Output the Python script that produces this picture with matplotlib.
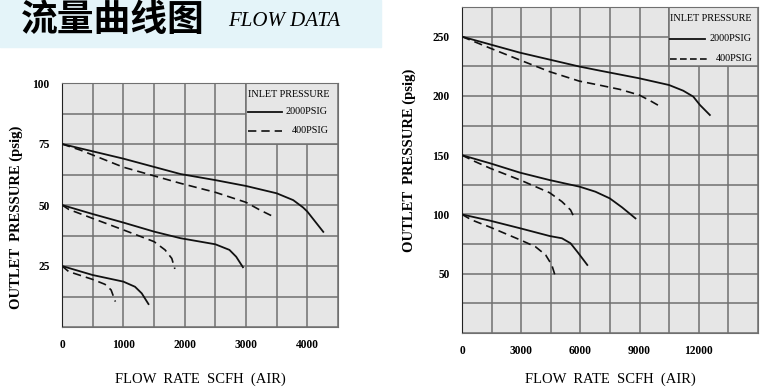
import matplotlib
matplotlib.use('Agg')
import matplotlib.pyplot as plt
import matplotlib.patches as patches

# left chart data (SCFH, psig)
l_solid_75_x = [0, 1000, 1930, 2500, 3000, 3500, 3770, 3930, 4000, 4100, 4260]
l_solid_75_y = [75, 69, 62.7, 60.2, 57.8, 54.8, 52, 49, 47.3, 44.1, 39]
l_dash_75_x = [0, 300, 1000, 1930, 2500, 3000, 3230, 3450]
l_dash_75_y = [75, 72.5, 65.5, 58.9, 55.2, 51.1, 47.9, 45.2]
l_solid_50_x = [0, 500, 1000, 1500, 1930, 2500, 2730, 2840, 2950]
l_solid_50_y = [50, 46.3, 42.8, 39.1, 36.4, 33.9, 31.6, 28.8, 24.5]
l_dash_50_x = [0, 110, 500, 1000, 1500, 1680, 1790, 1840]
l_dash_50_y = [50, 48.2, 44.5, 39.8, 35, 31.6, 28.1, 23.8]
l_solid_25_x = [0, 500, 1000, 1190, 1300, 1410]
l_solid_25_y = [25, 21.3, 18.6, 16.5, 13.8, 9.4]
l_dash_25_x = [0, 110, 500, 700, 800, 870]
l_dash_25_y = [25, 22.7, 19.5, 17.5, 15.2, 10.4]

# right chart data
r_solid_250_x = [0, 2930, 5940, 6990, 8970, 10490, 11210, 11720, 12060, 12560]
r_solid_250_y = [250, 236.5, 224.8, 221.3, 214.9, 209.2, 204.4, 199.4, 192.3, 183.9]
r_dash_250_x = [0, 1440, 2930, 4450, 5940, 6990, 8000, 8970, 9530, 10120]
r_dash_250_y = [250, 240.2, 230.3, 220.4, 212.5, 209, 205.5, 200.8, 196, 190.4]
r_solid_150_x = [0, 1435, 2955, 4444, 5965, 6760, 7485, 8110, 8790]
r_solid_150_y = [150, 143.1, 135.2, 129, 123.4, 119.2, 113.6, 106, 96.7]
r_dash_150_x = [0, 675, 1435, 2955, 4444, 5065, 5500, 5720]
r_dash_150_y = [150, 144.5, 138.9, 129, 118.3, 110.8, 103.8, 96.2]
r_solid_100_x = [0, 1435, 2955, 4444, 5065, 5500, 5840, 6350]
r_solid_100_y = [100, 94.7, 88.3, 81.8, 79.9, 75.7, 68.6, 57.4]
r_dash_100_x = [0, 500, 1435, 2955, 3720, 4240, 4550, 4750]
r_dash_100_y = [100, 95.3, 89.2, 78.5, 72.8, 65.8, 57.4, 46.7]

left_xticks = [0, 1000, 2000, 3000, 4000]
left_yticks = [25, 50, 75, 100]
right_xticks = [0, 3000, 6000, 9000, 12000]
right_yticks = [50, 100, 150, 200, 250]

serif = 'Liberation Serif'
ink = '#111111'
grid = '#707070'

fig = plt.figure(figsize=(7.64, 3.88), dpi=100)

# title banner
fig.patches.append(patches.Rectangle((0, 1 - 47 / 388), 381 / 764, 47 / 388,
                                     transform=fig.transFigure, color='#e4f4f9', zorder=0))
fig.text(21 / 764, 1 - 21 / 388, '流量曲线图', family=['Noto Sans CJK SC', 'DejaVu Sans'],
         fontsize=26.5, fontweight='heavy', va='center', ha='left')
fig.text(228 / 764, 1 - 21 / 388, 'FLOW DATA', family=serif, style='italic',
         fontsize=15, va='center', ha='left')


def setup(ax, xmax, xstep, ymax, ystep, xticks, yticks):
    ax.set_facecolor('#e6e6e6')
    ax.set_xlim(0, xmax)
    ax.set_ylim(0, ymax)
    x = 0
    while x <= xmax:
        ax.axvline(x, color=grid, lw=1.1, zorder=1)
        x += xstep
    y = 0
    while y <= ymax:
        ax.axhline(y, color=grid, lw=1.1, zorder=1)
        y += ystep
    for s in ax.spines.values():
        s.set_color(grid)
    ax.spines['left'].set_color('#222222')
    ax.set_xticks(xticks)
    ax.set_yticks(yticks)
    ax.tick_params(length=0, pad=9)
    for lab in ax.get_xticklabels() + ax.get_yticklabels():
        lab.set_family(serif)
        lab.set_fontsize(8.3)
        lab.set_fontweight('bold')
    ax.set_xlabel('FLOW  RATE  SCFH  (AIR)', family=serif, fontsize=10.5, labelpad=13)
    ax.set_ylabel('OUTLET  PRESSURE (psig)', family=serif, fontsize=10.5,
                  fontweight='bold')


def legend_box(ax, x0, y0, x1, y1):
    ax.add_patch(patches.Rectangle((x0, y0), x1 - x0, y1 - y0, facecolor='#e6e6e6',
                                   edgecolor=grid, lw=1.1, zorder=2))


def curves(ax, solids, dashes):
    for xs, ys in solids:
        ax.plot(xs, ys, color=ink, lw=1.3, zorder=3, solid_joinstyle='round')
    for xs, ys in dashes:
        ax.plot(xs, ys, color=ink, lw=1.2, ls=(0, (5, 3)), zorder=3)


# left chart
ax1 = fig.add_axes([62 / 764, 1 - 327 / 388, 276 / 764, 244 / 388])
setup(ax1, 4500, 500, 100, 12.5, left_xticks, left_yticks)
ax1.yaxis.set_label_coords(-0.141, 0.45)
ax1.xaxis.labelpad = 15
legend_box(ax1, 3000, 75, 4500, 100)
curves(ax1,
       [(l_solid_75_x, l_solid_75_y), (l_solid_50_x, l_solid_50_y), (l_solid_25_x, l_solid_25_y)],
       [(l_dash_75_x, l_dash_75_y), (l_dash_50_x, l_dash_50_y), (l_dash_25_x, l_dash_25_y)])
ax1.text(3030, 95.3, 'INLET PRESSURE', family=serif, fontsize=7.3, va='center', zorder=4)
ax1.plot([3030, 3580], [88.2, 88.2], color=ink, lw=1.3, zorder=4)
ax1.text(3650, 88.2, '2000PSIG', family=serif, fontsize=7.3, va='center', zorder=4)
ax1.plot([3030, 3580], [80.5, 80.5], color=ink, lw=1.2, ls=(0, (5, 3)), zorder=4)
ax1.text(3750, 80.5, '400PSIG', family=serif, fontsize=7.3, va='center', zorder=4)

# right chart
ax2 = fig.add_axes([462 / 764, 1 - 333 / 388, 296 / 764, 326 / 388])
setup(ax2, 15000, 1500, 275, 25, right_xticks, right_yticks)
ax2.yaxis.set_label_coords(-0.155, 0.53)
ax2.xaxis.labelpad = 11
legend_box(ax2, 10500, 225, 15000, 275)
curves(ax2,
       [(r_solid_250_x, r_solid_250_y), (r_solid_150_x, r_solid_150_y), (r_solid_100_x, r_solid_100_y)],
       [(r_dash_250_x, r_dash_250_y), (r_dash_150_x, r_dash_150_y), (r_dash_100_x, r_dash_100_y)])
ax2.text(10550, 265, 'INLET PRESSURE', family=serif, fontsize=7.3, va='center', zorder=4)
ax2.plot([10550, 12300], [248.3, 248.3], color=ink, lw=1.3, zorder=4)
ax2.text(12550, 248.3, '2000PSIG', family=serif, fontsize=7.3, va='center', zorder=4)
ax2.plot([10550, 12400], [231.3, 231.3], color=ink, lw=1.2, ls=(0, (4, 2)), zorder=4)
ax2.text(12850, 231.3, '400PSIG', family=serif, fontsize=7.3, va='center', zorder=4)

fig.savefig('out.png', dpi=100)
